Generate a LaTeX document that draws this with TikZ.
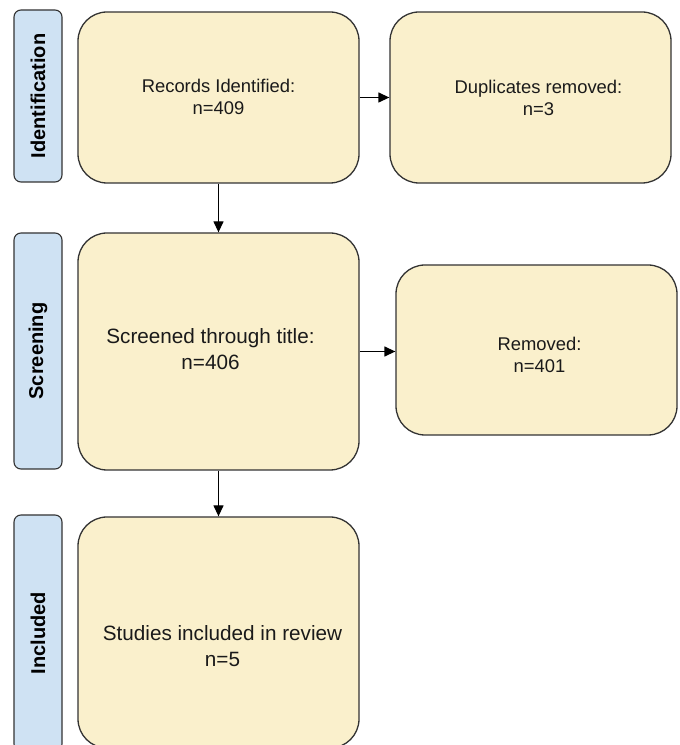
\documentclass[tikz,border=0pt]{standalone}
\usepackage{fontspec}
\setmainfont{Liberation Sans}
\usetikzlibrary{arrows.meta}
\definecolor{boxfill}{HTML}{FAF0CC}
\definecolor{lblfill}{HTML}{CFE2F3}
\definecolor{edge}{HTML}{333333}
\definecolor{txt}{HTML}{1A1A1A}
\tikzset{
  mainbox/.style={draw=edge, line width=1.3pt, fill=boxfill, rounded corners=29pt,
    inner sep=0pt},
  boxtext/.style={align=center, text=txt},
  smalltext/.style={font=\fontsize{18.4}{22}\selectfont},
  bigtext/.style={font=\fontsize{20.7}{26}\selectfont},
  stagebox/.style={draw=edge, line width=1.1pt, fill=lblfill, rounded corners=7pt,
    rotate=90, minimum height=48pt, inner sep=0pt,
    font=\fontsize{20}{24}\selectfont\bfseries, text=black},
  flow/.style={line width=1.3pt, draw=black, -{Triangle[length=11pt,width=10pt]}}
}
\begin{document}
\begin{tikzpicture}[x=1pt,y=1pt]
\useasboundingbox (0,0) rectangle (680,745);
% stage labels
\node[stagebox, minimum width=172pt] (lid) at (38,649) {Identification};
\node[stagebox, minimum width=236pt] (lsc) at (38,394) {Screening};
\node[stagebox, minimum width=236pt] (lin) at (38,112) {Included};
% boxes
\node[mainbox, minimum width=281pt, minimum height=171pt,
  label={[name=rectxt, boxtext, smalltext, yshift=1pt]center:Records Identified:\\ n=409}] (rec) at (218.5,647.5) {};
\node[mainbox, minimum width=281pt, minimum height=171pt,
  label={[name=duptxt, boxtext, smalltext, xshift=8pt]center:Duplicates removed:\\ n=3}] (dup) at (530.5,647.5) {};
\node[mainbox, minimum width=281pt, minimum height=237pt,
  label={[name=scrtxt, boxtext, bigtext, xshift=-8pt, yshift=2pt]center:Screened through title:\\ n=406}] (scr) at (218.5,393.5) {};
\node[mainbox, minimum width=281pt, minimum height=170pt,
  label={[name=remtxt, boxtext, smalltext, xshift=3pt, yshift=-5pt]center:Removed:\\ n=401}] (rem) at (536.5,395) {};
\node[mainbox, minimum width=281pt, minimum height=231pt,
  label={[name=stutxt, boxtext, bigtext, xshift=4pt, yshift=-13.5pt]center:Studies included in review\\ n=5}] (stu) at (218.5,112.5) {};
% connectors
\draw[flow] (rec.east) -- (dup.west);
\draw[flow] (rec.south) -- (scr.north);
\draw[flow] (scr.east) -- (scr.east -| rem.west);
\draw[flow] (scr.south) -- (stu.north);
\end{tikzpicture}
\end{document}
